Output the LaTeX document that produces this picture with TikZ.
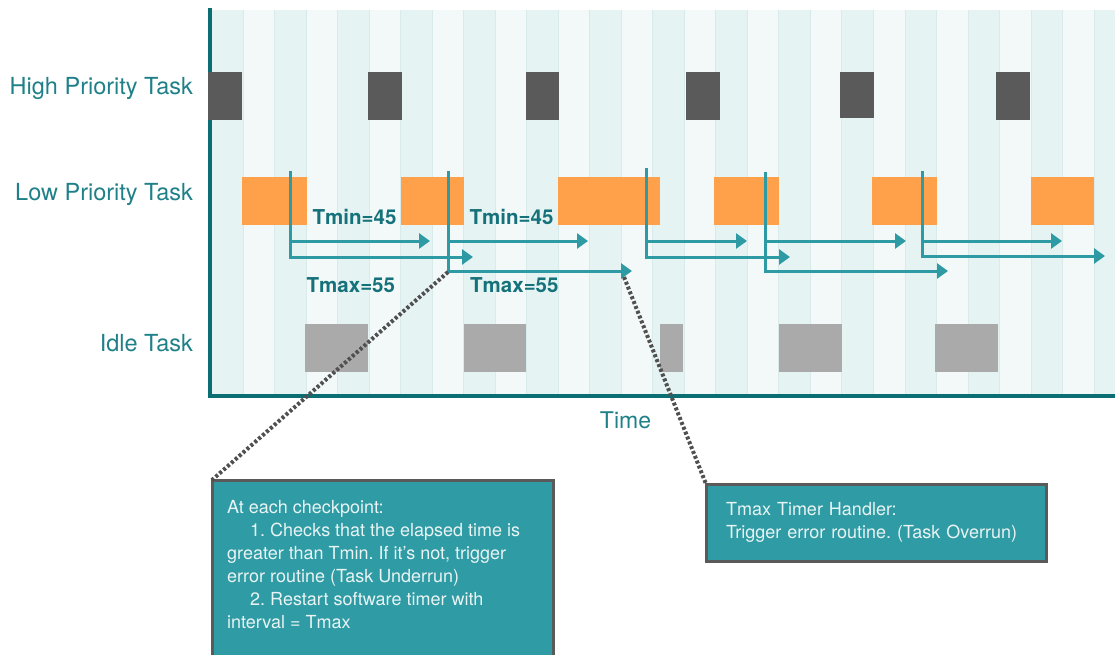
\documentclass[tikz,border=0pt]{standalone}
\usepackage{fontspec}
\setmainfont{TeX Gyre Heros}
\usetikzlibrary{arrows.meta,fit}
\frenchspacing
\definecolor{axisc}{HTML}{0B6E72}
\definecolor{stripeA}{HTML}{E6F3F3}
\definecolor{stripeB}{HTML}{F3F9F9}
\definecolor{sepc}{HTML}{D8EBEA}
\definecolor{arrowc}{HTML}{2E9AA3}
\definecolor{labelc}{HTML}{1F8088}
\definecolor{tlabelc}{HTML}{16727A}
\definecolor{hpc}{HTML}{5A5A5A}
\definecolor{lpc}{HTML}{FFA04A}
\definecolor{idlec}{HTML}{AAAAAA}
\definecolor{boxc}{HTML}{2F9BA4}
\definecolor{boxline}{HTML}{5A5A5A}
\definecolor{dotc}{HTML}{505050}
\definecolor{boxtextc}{HTML}{E9F4F4}
\begin{document}
\frenchspacing
\begin{tikzpicture}[x=1pt,y=-1pt,
  blk/.style={inner sep=0pt, outer sep=0pt, draw=none},
  hp/.style={blk, fill=hpc},
  lp/.style={blk, fill=lpc},
  idle/.style={blk, fill=idlec},
  rowlabel/.style={font=\fontsize{23.5}{27}\selectfont, text=labelc, anchor=base east, inner sep=0pt},
  tlabel/.style={font=\fontsize{20.5}{24}\selectfont\bfseries, text=tlabelc, anchor=base west, inner sep=0pt},
  timer/.style={draw=arrowc, line width=3pt, line join=miter, -{Triangle[length=11pt,width=15pt]}},
  callout/.style={draw=dotc, line width=4pt, dash pattern=on 3pt off 2.2pt},
  notebox/.style={fill=boxc, draw=boxline, line width=3pt, inner sep=0pt, outer sep=0pt},
  notetext/.style={font=\fontsize{18}{23}\selectfont\frenchspacing, text=boxtextc, align=left, inner sep=0pt}
]
\useasboundingbox (0,0) rectangle (1115,654);
% background stripes
\foreach \k in {-1,...,27}{
  \pgfmathsetmacro\xa{243+\k*31.52}
  \pgfmathsetmacro\xb{min(243+(\k+1)*31.52,1115)}
  \ifodd\k
    \fill[stripeA] (\xa,10) rectangle (\xb,394);
  \else
    \fill[stripeB] (\xa,10) rectangle (\xb,394);
  \fi
}
\foreach \k in {0,...,27}{
  \pgfmathsetmacro\xa{243+\k*31.52}
  \draw[sepc, line width=0.8pt] (\xa,10) -- (\xa,394);
}
% axes
\coordinate (ytop) at (210,8);
\coordinate (origin) at (210,395.5);
\coordinate (xend) at (1115,395.5);
\draw[axisc, line width=4pt] (ytop) -- (origin) -- (xend);

% row labels
\node[rowlabel] (lhp) at (193,94) {High Priority Task};
\node[rowlabel] (llp) at (193,200) {Low Priority Task};
\node[rowlabel] (lidle) at (193,351) {Idle Task};
\node[font=\fontsize{23}{27}\selectfont, text=labelc, anchor=base, inner sep=0pt] (ltime) at (625.5,428) {Time};

% high priority blocks
\node[hp, fit={(208,72)(242,120)}] (h1) {};
\node[hp, fit={(368,72)(402,120)}] (h2) {};
\node[hp, fit={(526,72)(559,120)}] (h3) {};
\node[hp, fit={(686,72)(720,120)}] (h4) {};
\node[hp, fit={(840,72)(874,118)}] (h5) {};
\node[hp, fit={(996,72)(1030,120)}] (h6) {};

% low priority blocks
\node[lp, fit={(242,177)(307,225)}] (l1) {};
\node[lp, fit={(401,177)(464,225)}] (l2) {};
\node[lp, fit={(558,177)(660,225)}] (l3) {};
\node[lp, fit={(714,177)(779,225)}] (l4) {};
\node[lp, fit={(872,177)(937,225)}] (l5) {};
\node[lp, fit={(1031,177)(1094,225)}] (l6) {};

% idle blocks
\node[idle, fit={(305,324)(368,372)}] (i1) {};
\node[idle, fit={(464,324)(526,372)}] (i2) {};
\node[idle, fit={(660,324)(683,372)}] (i3) {};
\node[idle, fit={(779,324)(842,372)}] (i4) {};
\node[idle, fit={(935,324)(998,372)}] (i5) {};

% checkpoints
\coordinate (c1) at (290,171); \coordinate (c1min) at (430,241); \coordinate (c1max) at (473,257);
\coordinate (c2) at (448,171); \coordinate (c2min) at (588,241); \coordinate (c2max) at (632,271);
\coordinate (c3) at (646,168); \coordinate (c3min) at (747,241); \coordinate (c3max) at (790,257);
\coordinate (c4) at (765,172); \coordinate (c4min) at (906,241); \coordinate (c4max) at (948,271);
\coordinate (c5) at (922,171); \coordinate (c5min) at (1062,241); \coordinate (c5max) at (1105,256);
\foreach \c in {c1,c2,c3,c4,c5}{
  \draw[timer] (\c) |- (\c max);
  \draw[timer] (\c |- \c min) -- (\c min);
}

% timer labels
\node[tlabel] (tmin1) at (312.5,224) {Tmin=45};
\node[tlabel] (tmin2) at (469.5,224) {Tmin=45};
\node[tlabel] (tmax1) at (306.5,292) {Tmax=55};
\node[tlabel] (tmax2) at (470,292) {Tmax=55};

% notes
\node[notebox, fit={(212,480)(553,670)}] (note1) {};
\node[notetext, anchor=north west] (note1text) at (227,500) {At each checkpoint:\\
\hspace*{23pt}1. Checks that the elapsed time is\\
greater than Tmin. If it’s not, trigger\\
error routine (Task Underrun)\\
\hspace*{23pt}2. Restart software timer with\\
interval = Tmax};
\node[notebox, anchor=north west, minimum width=340pt, minimum height=77pt,
      text width=300pt, inner xsep=20pt, font=\fontsize{18}{23}\selectfont\frenchspacing,
      text=boxtextc, align=left] (note2) at (706,484)
  {Tmax Timer Handler:\\Trigger error routine. (Task Overrun)};

% callouts
\coordinate (c2end) at (448,272);
\coordinate (t2tip) at (624,277);
\draw[callout] (c2end) -- (note1.north west);
\draw[callout] (t2tip) -- (note2.north west);
\end{tikzpicture}
\end{document}
